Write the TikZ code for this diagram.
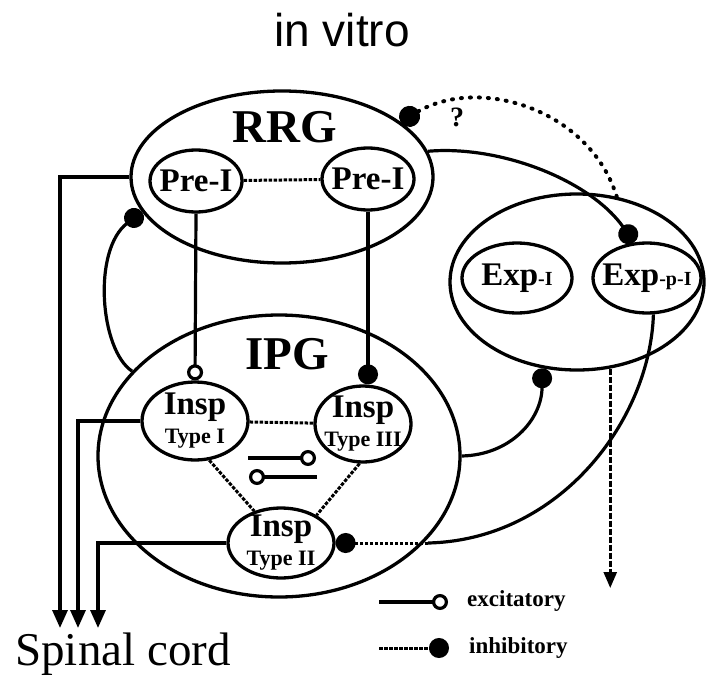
\documentclass[tikz,border=0pt]{standalone}
\usepackage{fontspec}
\setmainfont{Liberation Serif}
\newfontfamily\headfont{Liberation Sans}
\usetikzlibrary{arrows.meta,shapes.geometric,calc}

\begin{document}
\begin{tikzpicture}[x=1pt, y=-1pt,
  group/.style={draw, ellipse, line width=3.3pt, inner sep=0pt},
  cell/.style={draw, ellipse, line width=3.3pt, inner sep=0pt},
  grouptitle/.style={font=\fontsize{47}{47}\selectfont\bfseries, inner sep=0pt},
  lbl/.style={font=\fontsize{33}{33}\selectfont\bfseries, align=center, inner sep=0pt},
  exc/.style={-{Circle[open, length=16pt]}, line width=3.2pt},
  inh/.style={-{Circle[length=20pt]}, line width=3.2pt},
  link/.style={line width=3pt, dash pattern=on 3.5pt off 1.5pt},
  output/.style={-{Triangle[length=18pt, width=15pt]}, line width=3.2pt},
  query/.style={line width=4pt, line cap=round, dash pattern=on 1pt off 8pt},
  keytext/.style={font=\fontsize{23}{23}\selectfont\bfseries, anchor=west, inner sep=0pt}
]
\useasboundingbox (0,0) rectangle (706,679);

\node[font=\headfont\fontsize{46}{46}\selectfont, inner sep=0pt] (title) at (342,30) {in vitro};

% groups
\node[group, minimum width=302pt, minimum height=172pt] (rrg) at (282,177) {};
\node[group, minimum width=362pt, minimum height=282pt] (ipg) at (279,456) {};
\node[group, minimum width=254pt, minimum height=176pt] (exp) at (577,282) {};
\node[grouptitle] (rrgname) at (285,127) {RRG};
\node[grouptitle] (ipgname) at (287,354) {IPG};

% neurons
\node[cell, minimum width=92pt, minimum height=62pt, label={[lbl]center:Pre-I}] (prel) at (196,181) {};
\node[cell, minimum width=92pt, minimum height=62pt, label={[lbl]center:Pre-I}] (prer) at (368,179) {};
\node[cell, minimum width=106pt, minimum height=78pt,
  label={[lbl]center:Insp\\[-4pt]{\fontsize{22}{22}\selectfont Type I}}] (inspa) at (195,421) {};
\node[cell, minimum width=96pt, minimum height=76pt,
  label={[lbl]center:Insp\\[-4pt]{\fontsize{22}{22}\selectfont Type III}}] (inspc) at (363,424) {};
\node[cell, minimum width=106pt, minimum height=70pt,
  label={[lbl]center:Insp\\[-4pt]{\fontsize{22}{22}\selectfont Type II}}] (inspb) at (281,543) {};
\node[cell, minimum width=110pt, minimum height=70pt,
  label={[lbl]center:Exp{\fontsize{20}{20}\selectfont -I}}] (expi) at (517,278) {};
\node[cell, minimum width=108pt, minimum height=70pt,
  label={[lbl]center:Exp{\fontsize{20}{20}\selectfont -p-I}}] (exppi) at (647,278) {};

% mutual links
\draw[link] (prel) -- (prer);
\draw[link] (inspa) -- (inspc);
\draw[link] (inspa.-70) -- (inspb.130);
\draw[link] (inspc.-95) -- (inspb.38);

% RRG -> IPG
\draw[exc] (prel.south) -- (inspa.north);
\draw[inh] (prer.south) -- (prer.south |- inspc.north);

% small symbols inside IPG
\coordinate (syma) at (248,458);
\coordinate (symb) at (316,458);
\coordinate (symc) at (249,477);
\coordinate (symd) at (317,477);
\draw[exc] (syma) -- (symb);
\draw[exc] (symd) -- (symc);

% IPG -> RRG
\draw[inh] (ipg.150) .. controls (100,350) and (92,250) .. (rrg.194);

% RRG -> Exp-p-I
\draw[inh] (rrg.10) .. controls (500,145) and (590,180) .. (exppi.110);

% Exp -> RRG (?)
\draw[query, -{Circle[length=21pt]}] (exp.65) .. controls (590,110) and (480,75) .. (rrg.25);
\node[font=\fontsize{28}{28}\selectfont\bfseries] (qmark) at (457,117) {?};

% IPG -> Exp
\draw[inh] (ipg.east) .. controls (510,455) and (542,420) .. (exp.-112);

% Exp-p-I -> Insp Type II
\coordinate (junction) at (428,543);
\draw[line width=3.2pt] (exppi.-80) .. controls (650,420) and (560,540) .. (junction);
\draw[inh, link] (junction) -- (inspb.east);

% outputs
\coordinate (cordl) at (60,628);
\coordinate (cordm) at (78,628);
\coordinate (cordr) at (98,628);
\draw[output] (rrg.west) -| (cordl);
\draw[output] (inspa.west) -| (cordm);
\draw[output] (inspb.west) -| (cordr);
\node[font=\fontsize{47}{47}\selectfont, anchor=base] (cord) at (123,665) {Spinal cord};

\coordinate (vagus) at (608,588);
\draw[output, dash pattern=on 6pt off 2pt, line width=2.6pt,
  -{Triangle[length=16pt, width=13pt]}] (exp.-69) -- (exp.-69 |- vagus);

% legend
\coordinate (keyea) at (379,602);
\coordinate (keyeb) at (448,602);
\coordinate (keyia) at (379,648);
\coordinate (keyib) at (449,648);
\draw[exc] (keyea) -- (keyeb);
\draw[inh, link] (keyia) -- (keyib);
\node[keytext] (keyexc) at (467,601) {excitatory};
\node[keytext] (keyinh) at (469,648) {inhibitory};

\end{tikzpicture}
\end{document}
